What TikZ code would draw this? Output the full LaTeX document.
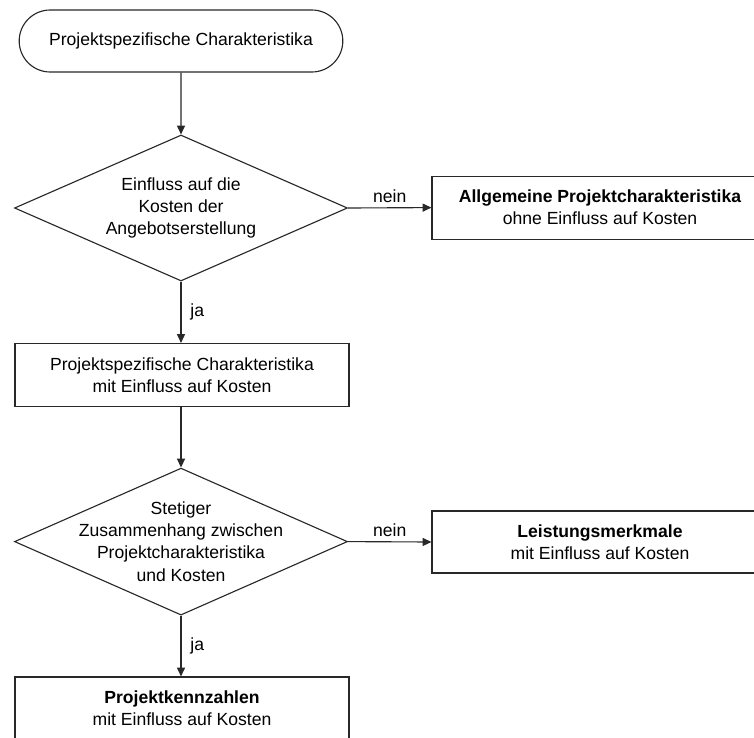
\documentclass[tikz,border=0pt]{standalone}
\usepackage{fontspec}
\setmainfont{Liberation Sans}
\usepackage{tikz}
\usetikzlibrary{
  arrows.meta, positioning, shapes.geometric,
  shapes.misc
}
\definecolor{flowline}{RGB}{40,40,40}

\begin{document}
\begin{tikzpicture}[
  every node/.style={font=\fontsize{12.5}{15.8}\selectfont, text=black},
  term/.style={rounded rectangle, draw=flowline, line width=0.8pt,
               minimum width=8.325cm, minimum height=1.55cm},
  proc/.style={rectangle, draw=flowline, line width=0.8pt,
               minimum width=8.35cm, minimum height=1.575cm, align=center},
  decide/.style={diamond, draw=flowline, line width=0.8pt, inner sep=0pt,
                 minimum width=8.325cm, minimum height=3.65cm},
  dtext/.style={align=center, inner sep=0pt},
  arr/.style={-{Triangle[length=2.2mm,width=2mm]}, draw=flowline, line width=0.8pt}
]
  \useasboundingbox (0,0) rectangle (18.85,-18.45);
  \node[term]   (start) at (4.525,-1.025) {Projektspezifische Charakteristika};
  \node[decide] (d1)    at (4.525,-5.2)   {};
  \node[dtext]  (d1t)   at (d1.center)
       {Einfluss auf die\\Kosten der\\Angebotserstellung};
  \node[proc,minimum width=8.4cm] (allg) at (15.0,-5.19)
       {\textbf{Allgemeine Projektcharakteristika}\\ohne Einfluss auf Kosten};
  \node[proc]   (spez)  at (4.55,-9.375)
       {Projektspezifische Charakteristika\\mit Einfluss auf Kosten};
  \node[decide,minimum height=3.675cm] (d2) at (4.525,-13.54) {};
  \node[dtext]  (d2t)   at (d2.center)
       {Stetiger\\Zusammenhang zwischen\\Projektcharakteristika\\und Kosten};
  \node[proc,minimum width=8.4cm,minimum height=1.55cm] (leist) at (15.0,-13.55)
       {\textbf{Leistungsmerkmale}\\mit Einfluss auf Kosten};
  \node[proc,minimum height=1.55cm] (kenn) at (4.55,-17.7)
       {\textbf{Projektkennzahlen}\\mit Einfluss auf Kosten};
  \draw[arr] (start) -- (d1);
  \draw[arr] (d1.east) -- node[above] {nein} (allg.west);
  \draw[arr] (d1.south) -- node[right=3pt] {ja} (spez.north -| d1.south);
  \draw[arr] (spez.south -| d2.north) -- (d2.north);
  \draw[arr] (d2.east) -- node[above] {nein} (leist.west);
  \draw[arr] (d2.south) -- node[right=3pt] {ja} (kenn.north -| d2.south);
\end{tikzpicture}
\end{document}
